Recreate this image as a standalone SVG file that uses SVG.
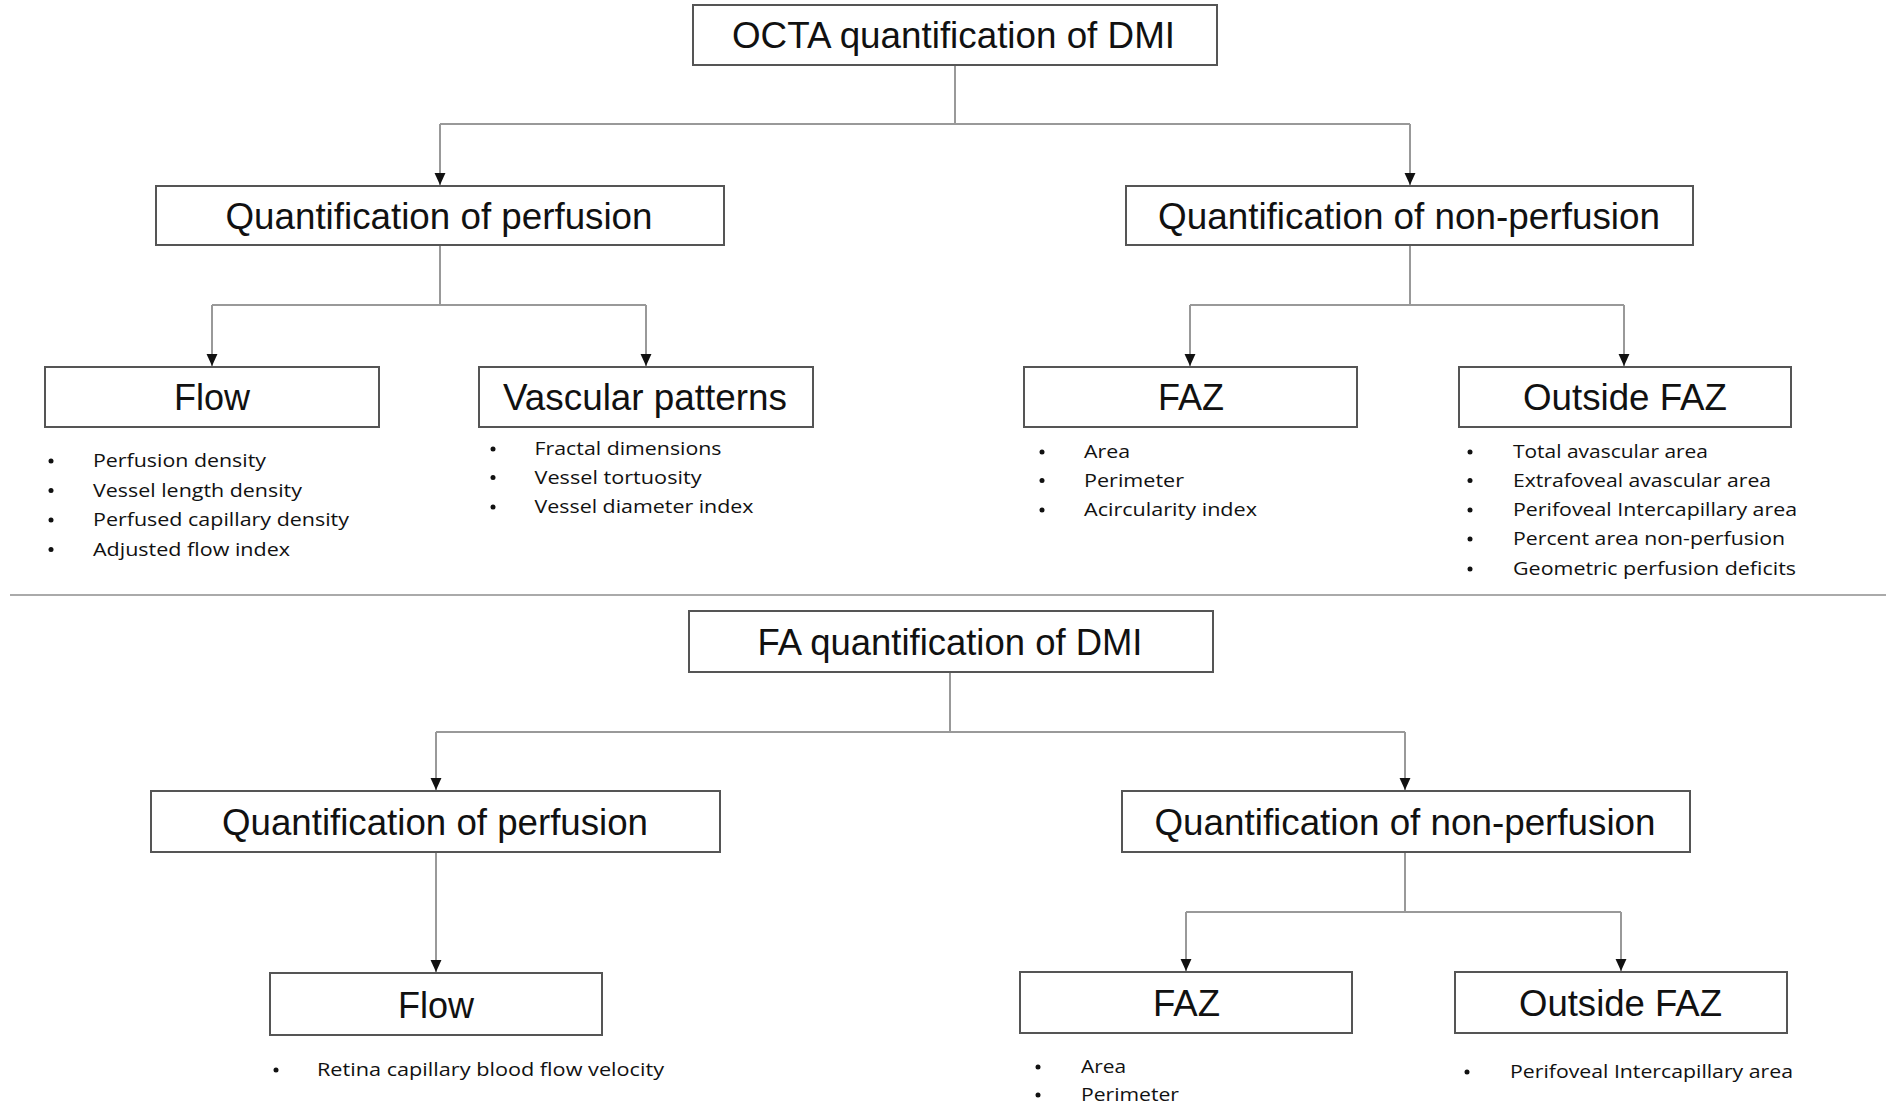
<svg xmlns="http://www.w3.org/2000/svg" width="1893" height="1109" viewBox="0 0 1893 1109">
<style>
.box{fill:#fff;stroke:#555;stroke-width:2}
.lbl{font-family:"Liberation Sans Narrow","Liberation Sans",Arial,sans-serif;font-size:36px;fill:#111;text-anchor:middle}
.li{font-family:"Open Sans","Liberation Sans",sans-serif;font-size:18px;fill:#111}
.bul{fill:#111}
.con{fill:none;stroke:#999;stroke-width:2}
.sep{stroke:#aaa;stroke-width:2}
</style>
<defs>
<marker id="arr" markerUnits="userSpaceOnUse" markerWidth="12" markerHeight="12" refX="11" refY="5" orient="auto" viewBox="0 0 11 10">
<path d="M0,0 L11,5 L0,10 Z" fill="#111"/>
</marker>
</defs>
<rect width="1893" height="1109" fill="#fff"/>
<line class="sep" x1="10" y1="595" x2="1886" y2="595"/>
<g id="connectors">
<path class="con" d="M955,65 V124"/>
<path class="con" d="M440,124 H1410"/>
<path class="con" d="M440,124 V185" marker-end="url(#arr)"/>
<path class="con" d="M1410,124 V185" marker-end="url(#arr)"/>
<path class="con" d="M440,245 V305 M212,305 H646"/>
<path class="con" d="M212,305 V366" marker-end="url(#arr)"/>
<path class="con" d="M646,305 V366" marker-end="url(#arr)"/>
<path class="con" d="M1410,245 V305 M1190,305 H1624"/>
<path class="con" d="M1190,305 V366" marker-end="url(#arr)"/>
<path class="con" d="M1624,305 V366" marker-end="url(#arr)"/>
<path class="con" d="M950,672 V732 M436,732 H1405"/>
<path class="con" d="M436,732 V790" marker-end="url(#arr)"/>
<path class="con" d="M1405,732 V790" marker-end="url(#arr)"/>
<path class="con" d="M436,852 V972" marker-end="url(#arr)"/>
<path class="con" d="M1405,852 V912 M1186,912 H1621"/>
<path class="con" d="M1186,912 V971" marker-end="url(#arr)"/>
<path class="con" d="M1621,912 V971" marker-end="url(#arr)"/>
</g>
<g id="octa">
<rect class="box" x="693" y="5" width="524" height="60"/>
<text class="lbl" x="953.5" y="48" textLength="443" lengthAdjust="spacingAndGlyphs">OCTA quantification of DMI</text>
</g>
<g id="octa-perf">
<rect class="box" x="156" y="186" width="568" height="59"/>
<text class="lbl" x="439" y="229" textLength="427" lengthAdjust="spacingAndGlyphs">Quantification of perfusion</text>
</g>
<g id="octa-nonperf">
<rect class="box" x="1126" y="186" width="567" height="59"/>
<text class="lbl" x="1409" y="229" textLength="502" lengthAdjust="spacingAndGlyphs">Quantification of non-perfusion</text>
</g>
<g id="octa-flow">
<rect class="box" x="45" y="367" width="334" height="60"/>
<text class="lbl" x="212" y="410" textLength="76" lengthAdjust="spacingAndGlyphs">Flow</text>
<circle class="bul" cx="51" cy="461" r="2.5"/>
<circle class="bul" cx="51" cy="490.5" r="2.5"/>
<circle class="bul" cx="51" cy="520" r="2.5"/>
<circle class="bul" cx="51" cy="549.5" r="2.5"/>
<text class="li" x="93" y="467" textLength="173" lengthAdjust="spacingAndGlyphs">Perfusion density</text>
<text class="li" x="93" y="496.5" textLength="209" lengthAdjust="spacingAndGlyphs">Vessel length density</text>
<text class="li" x="93" y="526" textLength="256" lengthAdjust="spacingAndGlyphs">Perfused capillary density</text>
<text class="li" x="93" y="555.5" textLength="197" lengthAdjust="spacingAndGlyphs">Adjusted flow index</text>
</g>
<g id="octa-vascular">
<rect class="box" x="479" y="367" width="334" height="60"/>
<text class="lbl" x="645" y="410" textLength="284" lengthAdjust="spacingAndGlyphs">Vascular patterns</text>
<circle class="bul" cx="493" cy="449" r="2.5"/>
<circle class="bul" cx="493" cy="477.5" r="2.5"/>
<circle class="bul" cx="493" cy="507" r="2.5"/>
<text class="li" x="534.5" y="455" textLength="187" lengthAdjust="spacingAndGlyphs">Fractal dimensions</text>
<text class="li" x="534.5" y="483.5" textLength="167" lengthAdjust="spacingAndGlyphs">Vessel tortuosity</text>
<text class="li" x="534.5" y="513" textLength="219" lengthAdjust="spacingAndGlyphs">Vessel diameter index</text>
</g>
<g id="octa-faz">
<rect class="box" x="1024" y="367" width="333" height="60"/>
<text class="lbl" x="1191" y="410" textLength="66" lengthAdjust="spacingAndGlyphs">FAZ</text>
<circle class="bul" cx="1042" cy="452" r="2.5"/>
<circle class="bul" cx="1042" cy="480.5" r="2.5"/>
<circle class="bul" cx="1042" cy="510" r="2.5"/>
<text class="li" x="1084" y="458" textLength="46" lengthAdjust="spacingAndGlyphs">Area</text>
<text class="li" x="1084" y="486.5" textLength="100" lengthAdjust="spacingAndGlyphs">Perimeter</text>
<text class="li" x="1084" y="516" textLength="173" lengthAdjust="spacingAndGlyphs">Acircularity index</text>
</g>
<g id="octa-outside">
<rect class="box" x="1459" y="367" width="332" height="60"/>
<text class="lbl" x="1625" y="410" textLength="204" lengthAdjust="spacingAndGlyphs">Outside FAZ</text>
<circle class="bul" cx="1470" cy="452" r="2.5"/>
<circle class="bul" cx="1470" cy="480.5" r="2.5"/>
<circle class="bul" cx="1470" cy="510" r="2.5"/>
<circle class="bul" cx="1470" cy="539" r="2.5"/>
<circle class="bul" cx="1470" cy="569" r="2.5"/>
<text class="li" x="1513" y="458" textLength="195" lengthAdjust="spacingAndGlyphs">Total avascular area</text>
<text class="li" x="1513" y="486.5" textLength="258" lengthAdjust="spacingAndGlyphs">Extrafoveal avascular area</text>
<text class="li" x="1513" y="516" textLength="284" lengthAdjust="spacingAndGlyphs">Perifoveal Intercapillary area</text>
<text class="li" x="1513" y="545" textLength="272" lengthAdjust="spacingAndGlyphs">Percent area non-perfusion</text>
<text class="li" x="1513" y="575" textLength="283" lengthAdjust="spacingAndGlyphs">Geometric perfusion deficits</text>
</g>
<g id="fa">
<rect class="box" x="689" y="611" width="524" height="61"/>
<text class="lbl" x="950" y="655" textLength="385" lengthAdjust="spacingAndGlyphs">FA quantification of DMI</text>
</g>
<g id="fa-perf">
<rect class="box" x="151" y="791" width="569" height="61"/>
<text class="lbl" x="435" y="835" textLength="426" lengthAdjust="spacingAndGlyphs">Quantification of perfusion</text>
</g>
<g id="fa-nonperf">
<rect class="box" x="1122" y="791" width="568" height="61"/>
<text class="lbl" x="1405" y="835" textLength="501" lengthAdjust="spacingAndGlyphs">Quantification of non-perfusion</text>
</g>
<g id="fa-flow">
<rect class="box" x="270" y="973" width="332" height="62"/>
<text class="lbl" x="436" y="1018" textLength="76" lengthAdjust="spacingAndGlyphs">Flow</text>
<circle class="bul" cx="276" cy="1070" r="2.5"/>
<text class="li" x="317" y="1076" textLength="347" lengthAdjust="spacingAndGlyphs">Retina capillary blood flow velocity</text>
</g>
<g id="fa-faz">
<rect class="box" x="1020" y="972" width="332" height="61"/>
<text class="lbl" x="1186.5" y="1016" textLength="67" lengthAdjust="spacingAndGlyphs">FAZ</text>
<circle class="bul" cx="1038" cy="1067" r="2.5"/>
<circle class="bul" cx="1038" cy="1095" r="2.5"/>
<text class="li" x="1081" y="1073" textLength="45" lengthAdjust="spacingAndGlyphs">Area</text>
<text class="li" x="1081" y="1101" textLength="98" lengthAdjust="spacingAndGlyphs">Perimeter</text>
</g>
<g id="fa-outside">
<rect class="box" x="1455" y="972" width="332" height="61"/>
<text class="lbl" x="1620.5" y="1016" textLength="203" lengthAdjust="spacingAndGlyphs">Outside FAZ</text>
<circle class="bul" cx="1467" cy="1072" r="2.5"/>
<text class="li" x="1510" y="1078" textLength="283" lengthAdjust="spacingAndGlyphs">Perifoveal Intercapillary area</text>
</g>
</svg>
